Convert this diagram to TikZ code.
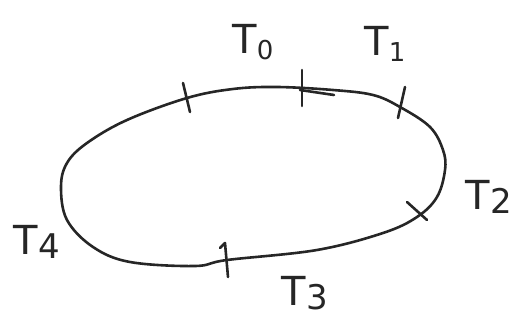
\documentclass[tikz,border=0pt]{standalone}
\usepackage{fontspec}
\setsansfont{DejaVu Sans}
\begin{document}
\begin{tikzpicture}[x=1pt,y=-1pt,
  pen/.style={line width=2.6pt,line cap=round,line join=round,black!85},
  lab/.style={font=\sffamily\fontsize{40}{44}\selectfont,inner sep=0pt,black!85}]
\useasboundingbox (0,0) rectangle (514,320);
% closed loop
\draw[pen] plot[smooth cycle,tension=0.6] coordinates {
 (61,187) (67,163) (87,143) (127,120) (187,98) (233,89) (277,87) (333,90)
 (373,95) (400,107) (430,127) (443,150) (445,170) (437,197) (417,217)
 (383,233) (317,250) (227,260) (195,266) (130,262) (93,247) (67,220)};
% ticks
\draw[pen] (183,83) -- (190,112);
\draw[pen] (302,70) -- (302,106);
\draw[pen] (300,90) -- (334,95);
\draw[pen] (405,87) -- (398,118);
\draw[pen] (407,202) -- (427,220);
\draw[pen] (220,248) -- (225,243) -- (228,277);
% labels
\node[lab] (t0) at (253,42) {T\raisebox{-0.3ex}{\fontsize{26}{28}\selectfont 0}};
\node[lab] (t1) at (385,44) {T\raisebox{-0.3ex}{\fontsize{26}{28}\selectfont 1}};
\node[lab] (t2) at (489,197) {T\raisebox{-0.2ex}{\fontsize{34}{36}\selectfont 2}};
\node[lab] (t3) at (305,293) {T\raisebox{-0.2ex}{\fontsize{34}{36}\selectfont 3}};
\node[lab] (t4) at (37,242) {T\raisebox{-0.2ex}{\fontsize{34}{36}\selectfont 4}};
\end{tikzpicture}
\end{document}
